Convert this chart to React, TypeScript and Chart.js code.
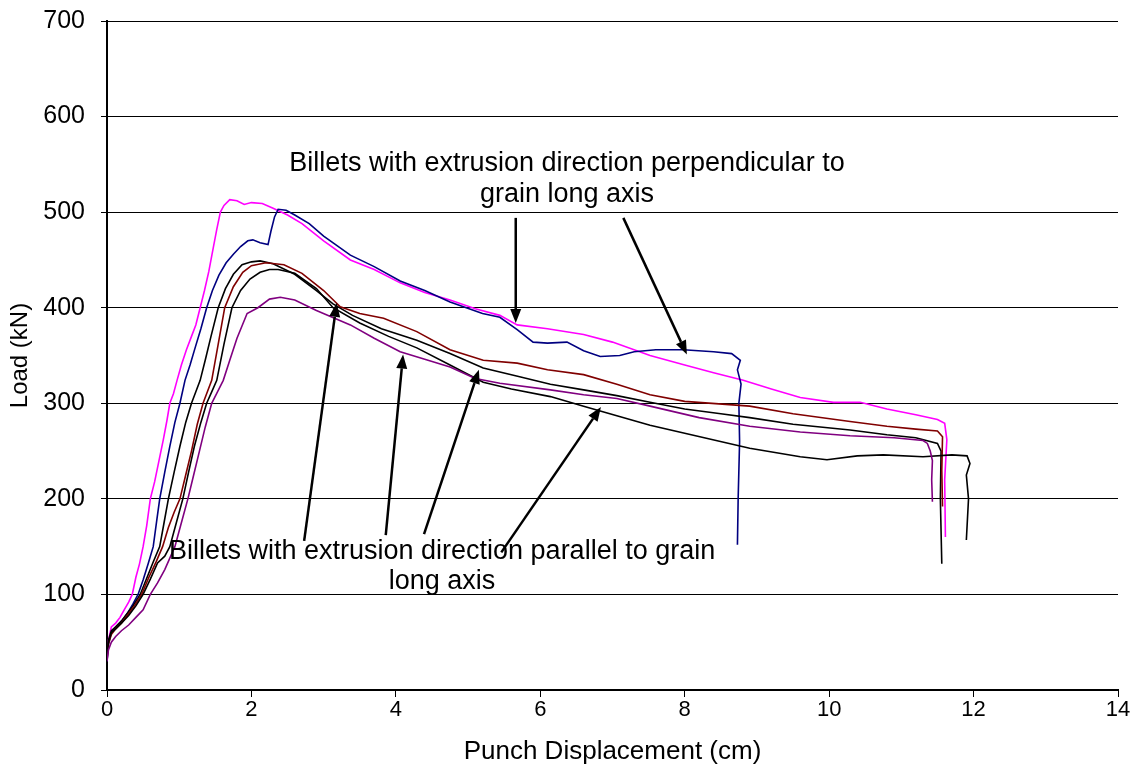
import React, { useEffect, useRef } from "react";
import { Chart, registerables } from "chart.js";

Chart.register(...registerables);

// ---- Data (Punch Displacement cm / Load kN) ----
const magentaX = [0, 0.02, 0.06, 0.12, 0.18, 0.24, 0.3, 0.35, 0.4, 0.45, 0.5, 0.55, 0.6, 0.66, 0.72, 0.78, 0.83, 0.87, 0.92, 0.97, 1.03, 1.1, 1.17, 1.23, 1.29, 1.35, 1.41, 1.47, 1.52, 1.57, 1.62, 1.7, 1.8, 1.9, 2.0, 2.15, 2.3, 2.5, 2.7, 3.0, 3.37, 3.7, 4.06, 4.4, 4.75, 5.1, 5.44, 5.68, 6.1, 6.6, 7.0, 7.52, 8.0, 8.4, 8.81, 9.2, 9.6, 10.06, 10.43, 10.8, 11.2, 11.5, 11.6, 11.63, 11.6, 11.61];
const magentaY = [35, 52, 66, 70, 76, 84, 92, 100, 118, 132, 150, 172, 200, 218, 240, 262, 282, 300, 310, 324, 340, 356, 370, 382, 400, 418, 438, 462, 482, 500, 507, 513, 512, 508, 510, 509, 504, 497, 488, 470, 450, 440, 426, 416, 408, 399, 392, 382, 378, 372, 364, 350, 340, 332, 324, 315, 306, 301, 301, 294, 288, 283, 279, 262, 220, 160];

const blueX = [0, 0.02, 0.06, 0.12, 0.2, 0.28, 0.36, 0.43, 0.5, 0.57, 0.64, 0.69, 0.73, 0.8, 0.87, 0.94, 1.01, 1.08, 1.15, 1.22, 1.3, 1.38, 1.46, 1.55, 1.65, 1.75, 1.85, 1.95, 2.02, 2.12, 2.23, 2.27, 2.32, 2.37, 2.48, 2.6, 2.8, 3.0, 3.37, 3.7, 4.06, 4.4, 4.75, 5.2, 5.44, 5.68, 5.9, 6.1, 6.37, 6.6, 6.83, 7.1, 7.3, 7.6, 7.98, 8.4, 8.65, 8.77, 8.73, 8.78, 8.75, 8.76, 8.74, 8.73];
const blueY = [30, 48, 60, 66, 72, 80, 90, 100, 115, 132, 150, 178, 200, 228, 255, 280, 300, 324, 340, 358, 378, 400, 418, 434, 447, 456, 464, 470, 471, 468, 466, 480, 495, 503, 502, 497, 488, 475, 455, 443, 428, 418, 406, 394, 390, 377, 364, 363, 364, 355, 349, 350, 354, 356, 356, 354, 352, 345, 335, 320, 300, 260, 200, 152];

const blackAX = [0, 0.02, 0.06, 0.12, 0.2, 0.28, 0.36, 0.46, 0.55, 0.64, 0.73, 0.79, 0.85, 0.93, 1.01, 1.09, 1.17, 1.23, 1.29, 1.36, 1.44, 1.54, 1.64, 1.75, 1.87, 2.0, 2.12, 2.3, 2.6, 2.9, 3.13, 3.4, 3.8, 4.29, 4.75, 5.21, 5.7, 6.14, 6.6, 7.06, 7.52, 8.0, 8.5, 8.9, 9.5, 10.29, 10.8, 11.2, 11.5, 11.55, 11.54, 11.56];
const blackAY = [38, 52, 62, 66, 72, 80, 88, 100, 117, 134, 150, 175, 200, 228, 255, 280, 300, 312, 324, 345, 370, 400, 420, 435, 445, 448, 449, 446, 435, 418, 404, 392, 378, 366, 352, 337, 328, 320, 314, 308, 301, 294, 289, 285, 278, 272, 267, 264, 258, 250, 200, 132];

const darkRedX = [0, 0.02, 0.06, 0.12, 0.2, 0.28, 0.38, 0.48, 0.58, 0.68, 0.77, 0.85, 0.93, 1.01, 1.09, 1.17, 1.25, 1.33, 1.39, 1.45, 1.54, 1.63, 1.75, 1.88, 2.0, 2.2, 2.45, 2.7, 3.0, 3.23, 3.5, 3.83, 4.29, 4.75, 5.21, 5.68, 6.1, 6.6, 7.06, 7.52, 8.0, 8.9, 9.5, 10.29, 10.8, 11.2, 11.5, 11.57, 11.56, 11.57];
const darkRedY = [32, 48, 58, 64, 70, 78, 88, 100, 118, 134, 150, 170, 186, 200, 225, 250, 278, 300, 312, 324, 362, 400, 422, 437, 444, 447, 445, 436, 418, 401, 394, 389, 375, 356, 345, 342, 335, 330, 320, 309, 302, 297, 289, 281, 276, 273, 271, 265, 230, 192];

const blackBX = [0, 0.02, 0.06, 0.12, 0.2, 0.3, 0.4, 0.5, 0.6, 0.7, 0.8, 0.87, 0.96, 1.05, 1.13, 1.21, 1.3, 1.38, 1.45, 1.52, 1.62, 1.73, 1.85, 1.98, 2.12, 2.25, 2.37, 2.6, 2.9, 3.13, 3.5, 3.9, 4.29, 4.75, 5.21, 5.6, 6.14, 6.6, 7.06, 7.52, 8.21, 8.9, 9.6, 9.97, 10.39, 10.75, 11.3, 11.7, 11.91, 11.95, 11.9, 11.93, 11.9];
const blackBY = [36, 50, 60, 64, 70, 78, 88, 100, 116, 133, 140, 150, 175, 200, 228, 255, 280, 300, 312, 324, 362, 400, 418, 430, 437, 440, 440, 436, 420, 400, 384, 370, 358, 340, 322, 315, 307, 297, 287, 277, 265, 253, 244, 241, 245, 246, 244, 246, 245, 237, 225, 200, 157];

const purpleX = [0, 0.02, 0.06, 0.12, 0.2, 0.3, 0.4, 0.5, 0.6, 0.7, 0.8, 0.87, 0.94, 1.03, 1.12, 1.2, 1.28, 1.36, 1.45, 1.53, 1.61, 1.7, 1.8, 1.94, 2.09, 2.25, 2.4, 2.6, 2.9, 3.37, 3.7, 4.06, 4.4, 4.75, 5.1, 5.44, 6.14, 6.6, 7.06, 7.52, 8.2, 8.9, 9.6, 10.29, 10.9, 11.3, 11.36, 11.4, 11.43, 11.42, 11.43];
const purpleY = [30, 42, 50, 56, 62, 68, 76, 84, 100, 112, 126, 138, 150, 175, 200, 225, 250, 275, 300, 312, 324, 345, 368, 394, 400, 409, 411, 408, 397, 382, 368, 354, 346, 338, 326, 321, 314, 309, 305, 297, 285, 276, 270, 266, 264, 261, 258, 250, 240, 220, 197];

// ---- Axes ----
const xMin = 0, xMax = 14, xStep = 2;
const yMin = 0, yMax = 700, yStep = 100;
const xTitle = "Punch Displacement (cm)";
const yTitle = "Load (kN)";

// ---- Annotations (data coordinates) ----
const perpText = ["Billets with extrusion direction perpendicular to", "grain long axis"];
const perpTextX = 6.37;
const perpTextY = [551, 518];
const paraText = ["Billets with extrusion direction parallel to grain", "long axis"];
const paraTextX = 4.64;
const paraTextY = [145, 113];
const arrowFromX = [5.66, 7.15, 2.73, 3.86, 4.39, 5.46];
const arrowFromY = [494, 494, 156, 162, 163, 144];
const arrowToX = [5.66, 8.03, 3.18, 4.10, 5.15, 6.84];
const arrowToY = [384, 351, 405, 351, 335, 296];

const FONT = "'Liberation Sans', Arial, Helvetica, sans-serif";

const pts = (xs: number[], ys: number[]) => xs.map((x, i) => ({ x, y: ys[i] }));

const annotationPlugin = {
  id: "annotations",
  afterDatasetsDraw(chart: any) {
    const { ctx, scales } = chart;
    const sx = scales.x, sy = scales.y;
    ctx.save();
    ctx.fillStyle = "#000";
    ctx.font = `27px ${FONT}`;
    ctx.textAlign = "center";
    ctx.textBaseline = "middle";
    perpText.forEach((t, i) => ctx.fillText(t, sx.getPixelForValue(perpTextX), sy.getPixelForValue(perpTextY[i])));
    paraText.forEach((t, i) => ctx.fillText(t, sx.getPixelForValue(paraTextX), sy.getPixelForValue(paraTextY[i])));
    ctx.strokeStyle = "#000";
    ctx.lineWidth = 2.5;
    for (let i = 0; i < arrowFromX.length; i++) {
      const x1 = sx.getPixelForValue(arrowFromX[i]);
      const y1 = sy.getPixelForValue(arrowFromY[i]);
      const x2 = sx.getPixelForValue(arrowToX[i]);
      const y2 = sy.getPixelForValue(arrowToY[i]);
      const ang = Math.atan2(y2 - y1, x2 - x1);
      const hl = 14, hw = 5.5;
      const bx = x2 - hl * Math.cos(ang);
      const by = y2 - hl * Math.sin(ang);
      ctx.beginPath();
      ctx.moveTo(x1, y1);
      ctx.lineTo(bx, by);
      ctx.stroke();
      ctx.beginPath();
      ctx.moveTo(x2, y2);
      ctx.lineTo(bx + hw * Math.sin(ang), by - hw * Math.cos(ang));
      ctx.lineTo(bx - hw * Math.sin(ang), by + hw * Math.cos(ang));
      ctx.closePath();
      ctx.fill();
    }
    ctx.restore();
  },
};

export default function App() {
  const canvasRef = useRef<HTMLCanvasElement | null>(null);

  useEffect(() => {
    const canvas = canvasRef.current;
    if (!canvas) return;
    const mk = (label: string, xs: number[], ys: number[], color: string) => ({
      label,
      data: pts(xs, ys),
      showLine: true,
      borderColor: color,
      backgroundColor: color,
      borderWidth: 1.6,
      pointRadius: 0,
      pointHoverRadius: 0,
      tension: 0,
      fill: false,
    });
    const chart = new Chart(canvas, {
      type: "scatter",
      data: {
        datasets: [
          mk("Purple", purpleX, purpleY, "#800080"),
          mk("Black B", blackBX, blackBY, "#000000"),
          mk("Dark red", darkRedX, darkRedY, "#800000"),
          mk("Black A", blackAX, blackAY, "#000000"),
          mk("Blue", blueX, blueY, "#000080"),
          mk("Magenta", magentaX, magentaY, "#FF00FF"),
        ],
      },
      options: {
        animation: false,
        responsive: false,
        maintainAspectRatio: false,
        layout: { padding: { top: 21, right: 20, left: 0, bottom: 0 } },
        plugins: {
          legend: { display: false },
          tooltip: { enabled: false },
        },
        scales: {
          x: {
            type: "linear",
            min: xMin,
            max: xMax,
            afterFit: (s: any) => { s.height = 77; s.paddingLeft = 0; s.paddingRight = 0; },
            ticks: {
              stepSize: xStep,
              color: "#000",
              font: { family: FONT, size: 22 },
              padding: 0,
            },
            grid: {
              drawOnChartArea: false,
              drawTicks: true,
              tickLength: 7,
              tickColor: "#000",
              tickWidth: 1,
            },
            border: { color: "#000", width: 2 },
            title: {
              display: true,
              text: xTitle,
              color: "#000",
              font: { family: FONT, size: 26 },
              padding: { top: 0, bottom: 0 },
            },
          },
          y: {
            type: "linear",
            min: yMin,
            max: yMax,
            afterFit: (s: any) => { s.width = 107; s.paddingTop = 0; s.paddingBottom = 0; },
            ticks: {
              stepSize: yStep,
              color: "#000",
              font: { family: FONT, size: 25 },
              padding: 16,
            },
            grid: {
              color: "#000",
              lineWidth: 1,
              drawTicks: true,
              tickLength: 6,
              tickColor: "#000",
            },
            border: { color: "#000", width: 2 },
            title: {
              display: true,
              text: yTitle,
              color: "#000",
              font: { family: FONT, size: 24 },
              padding: { top: 6, bottom: 0 },
            },
          },
        },
      },
      plugins: [annotationPlugin],
    });
    return () => chart.destroy();
  }, []);

  return (
    <div style={{ position: "fixed", left: 0, top: 0, width: 1138, height: 767, background: "#fff" }}>
      <canvas ref={canvasRef} width={1138} height={767} />
    </div>
  );
}
